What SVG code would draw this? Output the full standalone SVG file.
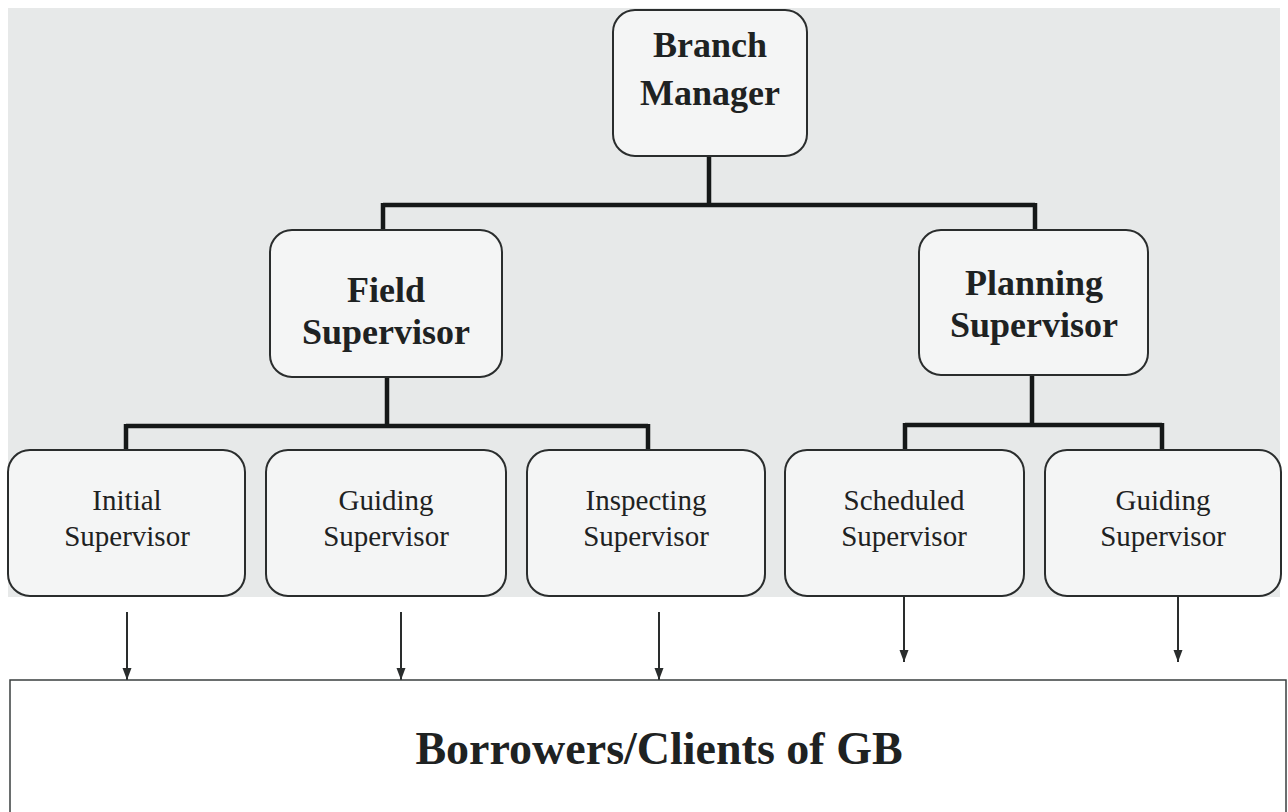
<svg xmlns="http://www.w3.org/2000/svg" width="1288" height="812" viewBox="0 0 1288 812">
<defs>
<style>
.box{fill:#f4f5f5;stroke:#2a2d2d;stroke-width:2}
.t{font-family:"Liberation Serif","Times New Roman",serif;fill:#1e2222;text-anchor:middle}
.b{font-weight:bold;font-size:36px}
.r{font-size:29px}
.tree{fill:none;stroke:#151818;stroke-width:4.5}
.arr{stroke:#2a2d2d;stroke-width:2;marker-end:url(#ah)}
</style>
<marker id="ah" viewBox="0 0 12 10" refX="12" refY="5" markerWidth="12" markerHeight="10" markerUnits="userSpaceOnUse" orient="auto"><path d="M0,0.5 L12,5 L0,9.5 z" fill="#2a2d2d"/></marker>
</defs>
<rect width="1288" height="812" fill="#ffffff"/>
<rect x="8" y="8" width="1272" height="589" fill="#e7e9e9"/>
<g id="connectors">
<path class="tree" d="M709,156 V205 M383,205 H1035 M383,203 V230 M1035,203 V230"/>
<path class="tree" d="M387,377 V426 M126,426 H648 M126,424 V450 M648,424 V450"/>
<path class="tree" d="M1032,375 V425 M905,425 H1162 M905,423 V450 M1162,423 V450"/>
<line class="arr" x1="127" y1="612" x2="127" y2="680"/>
<line class="arr" x1="401" y1="612" x2="401" y2="680"/>
<line class="arr" x1="659" y1="612" x2="659" y2="680"/>
<line class="arr" x1="904" y1="596" x2="904" y2="662"/>
<line class="arr" x1="1178" y1="596" x2="1178" y2="662"/>
</g>
<g id="branch-manager">
<rect class="box" x="613" y="10" width="194" height="146" rx="22"/>
<text class="t b" x="710" y="57" font-size="38">Branch</text>
<text class="t b" x="710" y="105" font-size="38">Manager</text>
</g>
<g id="field-supervisor">
<rect class="box" x="270" y="230" width="232" height="147" rx="22"/>
<text class="t b" x="386" y="302">Field</text>
<text class="t b" x="386" y="344">Supervisor</text>
</g>
<g id="planning-supervisor">
<rect class="box" x="919" y="230" width="229" height="145" rx="22"/>
<text class="t b" x="1034" y="295">Planning</text>
<text class="t b" x="1034" y="337">Supervisor</text>
</g>
<g id="initial-supervisor">
<rect class="box" x="8" y="450" width="237" height="146" rx="22"/>
<text class="t r" x="127" y="510">Initial</text>
<text class="t r" x="127" y="546">Supervisor</text>
</g>
<g id="guiding-supervisor-1">
<rect class="box" x="266" y="450" width="240" height="146" rx="22"/>
<text class="t r" x="386" y="510">Guiding</text>
<text class="t r" x="386" y="546">Supervisor</text>
</g>
<g id="inspecting-supervisor">
<rect class="box" x="527" y="450" width="238" height="146" rx="22"/>
<text class="t r" x="646" y="510">Inspecting</text>
<text class="t r" x="646" y="546">Supervisor</text>
</g>
<g id="scheduled-supervisor">
<rect class="box" x="785" y="450" width="239" height="146" rx="22"/>
<text class="t r" x="904" y="510">Scheduled</text>
<text class="t r" x="904" y="546">Supervisor</text>
</g>
<g id="guiding-supervisor-2">
<rect class="box" x="1045" y="450" width="236" height="146" rx="22"/>
<text class="t r" x="1163" y="510">Guiding</text>
<text class="t r" x="1163" y="546">Supervisor</text>
</g>
<g id="borrowers">
<rect x="10" y="680" width="1276" height="140" fill="#ffffff" stroke="#3a3f3f" stroke-width="1.5"/>
<text class="t" x="659" y="764" font-weight="bold" font-size="46">Borrowers/Clients of GB</text>
</g>
</svg>
